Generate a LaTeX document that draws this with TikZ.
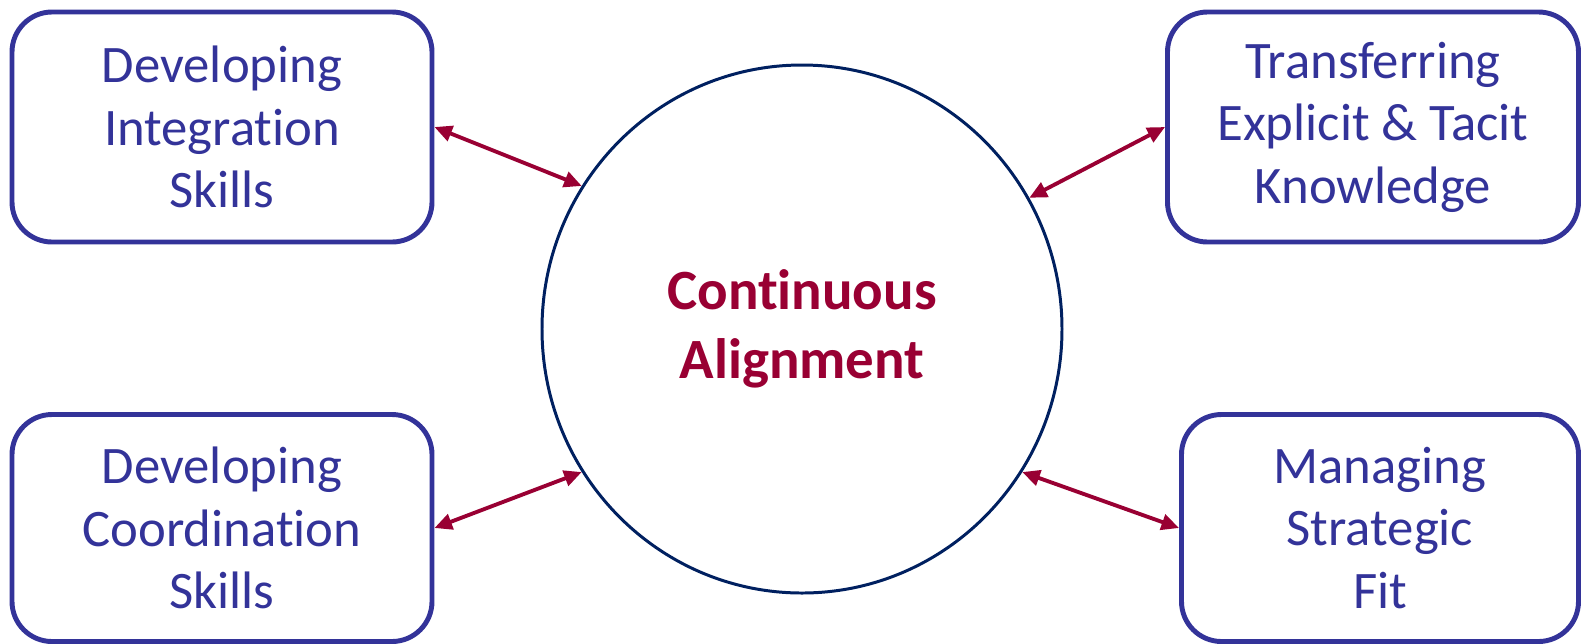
\documentclass[tikz,border=0pt]{standalone}
\usepackage{fontspec}
\setmainfont{Carlito}[Ligatures=NoCommon]
\usetikzlibrary{arrows.meta,shapes.geometric}
\definecolor{boxblue}{HTML}{333399}
\definecolor{navy}{HTML}{002060}
\definecolor{crimson}{HTML}{990033}
\tikzset{skill/.style={draw=boxblue,line width=1.4pt,rounded corners=0.4cm,text=boxblue,align=center,inner sep=0pt,minimum height=2.30cm,font=\fontsize{15pt}{17.8pt}\selectfont},
  hub/.style={ellipse,draw=navy,line width=0.85pt,text=crimson,align=center,inner sep=0pt,minimum width=5.20cm,minimum height=5.28cm,font=\fontsize{16.2pt}{19.5pt}\selectfont\bfseries},
  link/.style={draw=crimson,line width=1.1pt,{Triangle[length=5pt,width=4.5pt]}-{Triangle[length=5pt,width=4.5pt]}}}

\begin{document}
\begin{tikzpicture}
      \useasboundingbox (0,0) rectangle (15.81,-6.43);
      \node[hub] (A) at (8.02,-3.29) {Continuous\\ Alignment};
      \node[skill,minimum width=4.20cm] (I) at (2.22,-1.27) {Developing\\ Integration\\ Skills};
      \node[skill,minimum width=4.11cm] (T) at (13.73,-1.27) {Transferring\\ Explicit \& Tacit\\ Knowledge};
      \node[skill,minimum width=4.20cm,minimum height=2.27cm] (C) at (2.22,-5.28) {Developing\\ Coordination\\ Skills};
      \node[skill,minimum width=3.97cm,minimum height=2.27cm] (S) at (13.80,-5.28) {Managing\\ Strategic\\ Fit};

      \draw[link] (I.east) -- (A.147);
      \draw[link] (A.30) -- (T.west);
      \draw[link] (C.east) -- (A.213);
      \draw[link] (A.327) -- (S.west);
    \end{tikzpicture}
\end{document}
